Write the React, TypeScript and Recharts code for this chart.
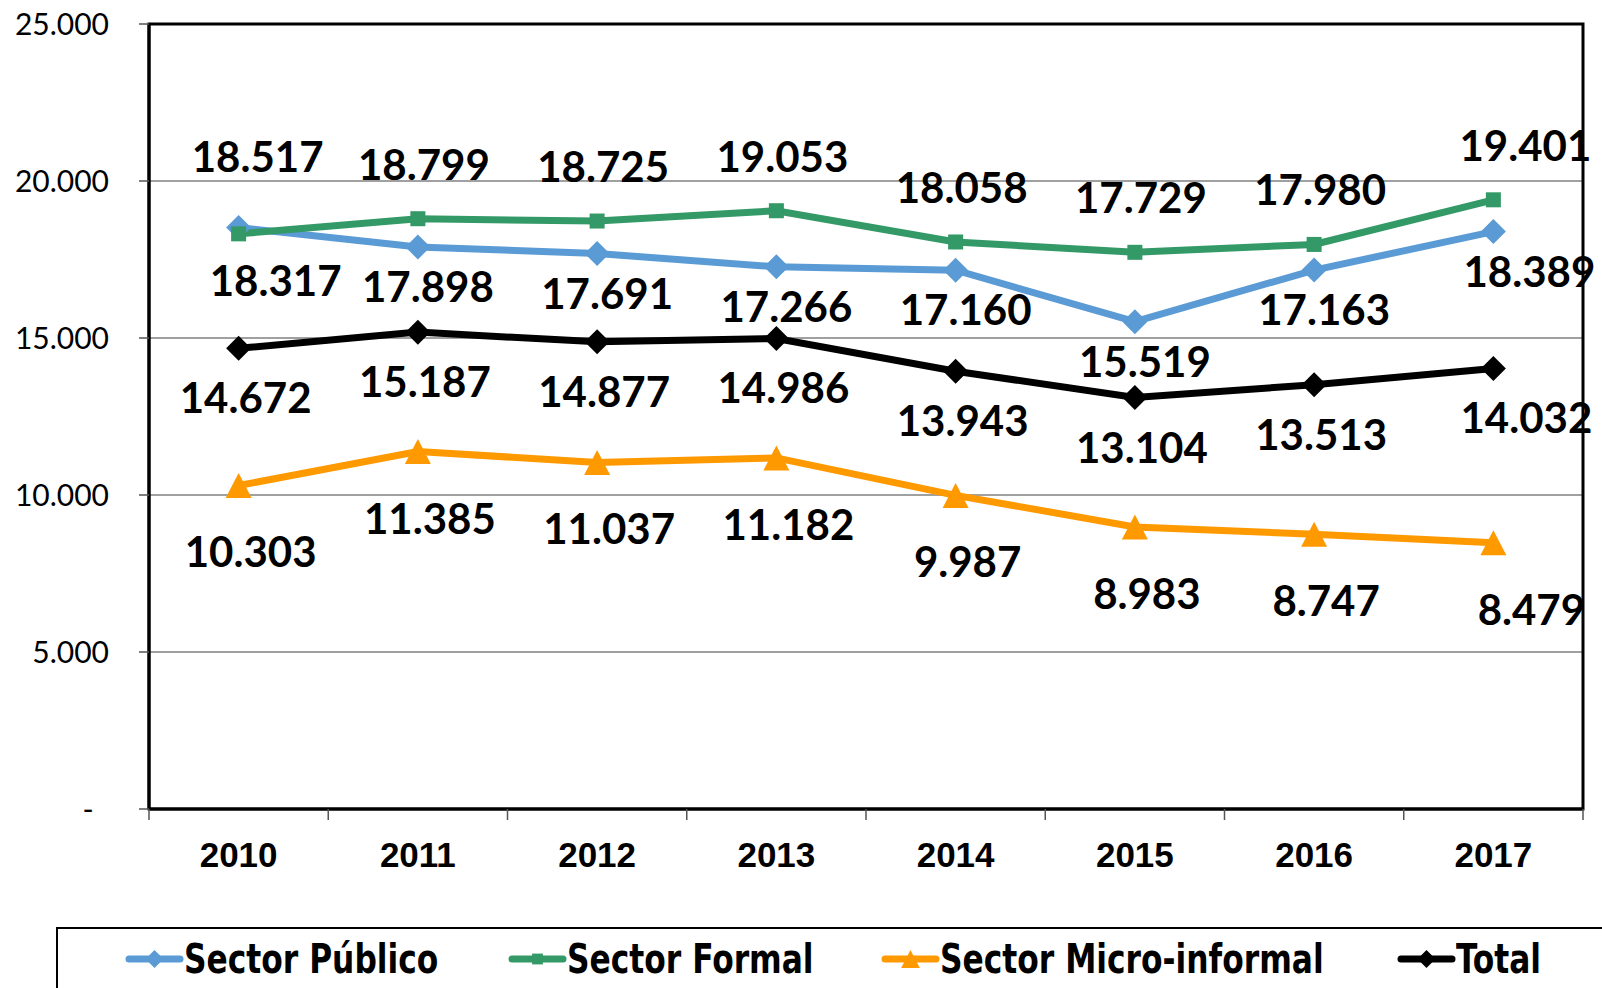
import { CartesianGrid, Line, LineChart, ReferenceArea, XAxis, YAxis } from 'recharts'

const YEARS = ['2010', '2011', '2012', '2013', '2014', '2015', '2016', '2017']
const SECTOR_PUBLICO = [18517, 17898, 17691, 17266, 17160, 15519, 17163, 18389]
const SECTOR_FORMAL = [18317, 18799, 18725, 19053, 18058, 17729, 17980, 19401]
const SECTOR_MICRO = [10303, 11385, 11037, 11182, 9987, 8983, 8747, 8479]
const TOTAL = [14672, 15187, 14877, 14986, 13943, 13104, 13513, 14032]
const Y_TICKS = [0, 5000, 10000, 15000, 20000, 25000]

const BLUE = '#5B9BD5'
const GREEN = '#339966'
const ORANGE = '#FF9900'
const BLACK = '#000000'

const data = YEARS.map((y, i) => ({
  year: Number(y),
  publico: SECTOR_PUBLICO[i],
  formal: SECTOR_FORMAL[i],
  micro: SECTOR_MICRO[i],
  total: TOTAL[i],
}))

const yearNums = YEARS.map(Number)
// category boundaries: ticks sit between the years, labels in the middle of each band
const boundaryTicks = [...yearNums.map((y) => y - 0.5), yearNums[yearNums.length - 1] + 0.5]
const xDomain = [boundaryTicks[0], boundaryTicks[boundaryTicks.length - 1]]

const fmt = (v: number) => String(Math.round(v)).replace(/\B(?=(\d{3})+(?!\d))/g, '.')

const LABEL_FONT = 'Lato, "Open Sans", sans-serif'

function marker(shape: string, cx: number, cy: number, color: string, s = 1) {
  if (shape === 'diamond') {
    const r = 12.5 * s
    return <path d={`M${cx},${cy - r}L${cx + r},${cy}L${cx},${cy + r}L${cx - r},${cy}Z`} fill={color} />
  }
  if (shape === 'square') {
    const r = 7.5 * s
    return <rect x={cx - r} y={cy - r} width={2 * r} height={2 * r} fill={color} />
  }
  const w = 13 * s
  const h = 12.5 * s
  return <path d={`M${cx},${cy - h}L${cx + w},${cy + h}L${cx - w},${cy + h}Z`} fill={color} />
}

const makeDot = (shape: string, color: string) => (props: any) => {
  const { cx, cy, index } = props
  if (cx == null || cy == null) return <g key={`d-${index}`} />
  return <g key={`d-${shape}-${index}`}>{marker(shape, cx, cy, color)}</g>
}

// label offsets relative to the point (label centre)
const makeLabel = (series: string) => (props: any) => {
  const x = props.x ?? props.viewBox?.x
  const y = props.y ?? props.viewBox?.y
  const index = props.index
  const value = props.value
  if (x == null || y == null || value == null) return null
  let dx = 0
  let dy = 0
  if (series === 'publico') {
    const above = SECTOR_PUBLICO[index] > SECTOR_FORMAL[index]
    dx = above ? 19 : 10
    dy = above ? -72 : 39
  } else if (series === 'formal') {
    const above = SECTOR_FORMAL[index] > SECTOR_PUBLICO[index]
    dx = above ? 6 : 37
    dy = above ? -55 : 46
  } else if (series === 'total') {
    dx = 7
    dy = 49
  } else {
    dx = 12
    dy = 66
  }
  // labels of the last year are pushed towards the right edge
  if (index === YEARS.length - 1) dx += 26
  return (
    <text
      key={`l-${series}-${index}`}
      x={x + dx}
      y={y + dy}
      textAnchor="middle"
      dominantBaseline="central"
      fontFamily={LABEL_FONT}
      fontWeight={700}
      fontSize={42}
      fill="#000"
    >
      {fmt(value)}
    </text>
  )
}

function YearTick(props: any) {
  const { x, y, payload, width, index } = props
  const band = (width || 1434) / YEARS.length
  if (index >= YEARS.length) return <g />
  return (
    <text
      x={x + band / 2}
      y={y}
      dy="0.71em"
      textAnchor="middle"
      fill="#000"
      fontSize={35}
      fontWeight={700}
      fontFamily='"Liberation Sans", Arial, sans-serif'
    >
      {YEARS[index] ?? String(payload.value + 0.5)}
    </text>
  )
}

const LEGEND = [
  { name: 'Sector Público', color: BLUE, shape: 'diamond', left: 125 },
  { name: 'Sector Formal', color: GREEN, shape: 'square', left: 508 },
  { name: 'Sector Micro-informal', color: ORANGE, shape: 'triangle', left: 881 },
  { name: 'Total', color: BLACK, shape: 'diamond', left: 1397 },
]

function ChartLegend() {
  return (
    <div
      style={{
        position: 'absolute',
        left: 56,
        top: 927,
        width: 1600,
        height: 200,
        borderTop: '2px solid #000',
        borderLeft: '2px solid #000',
      }}
    >
      {LEGEND.map((item) => (
        <div
          key={item.name}
          style={{
            position: 'absolute',
            left: item.left - 58,
            top: 5,
            height: 50,
            display: 'flex',
            alignItems: 'center',
          }}
        >
          <svg width={59} height={30} style={{ display: 'block' }}>
            <line x1={4} y1={15} x2={55} y2={15} stroke={item.color} strokeWidth={7} strokeLinecap="round" />
            {marker(item.shape, 29.5, 15, item.color, 0.72)}
          </svg>
          <span
            style={{
              display: 'inline-block',
              fontFamily: '"DejaVu Sans Condensed", "DejaVu Sans", sans-serif',
              fontWeight: 700,
              fontSize: 40,
              lineHeight: '50px',
              color: '#000',
              whiteSpace: 'nowrap',
              transform: 'scaleX(0.87)',
              transformOrigin: 'left center',
            }}
          >
            {item.name}
          </span>
        </div>
      ))}
    </div>
  )
}

export default function App() {
  return (
    <div
      style={{
        position: 'absolute',
        left: 0,
        top: 0,
        width: 1602,
        height: 988,
        overflow: 'hidden',
        background: '#fff',
      }}
    >
      <LineChart width={1602} height={988} data={data} margin={{ top: 24, right: 19, left: 0, bottom: 119 }}>
        <CartesianGrid xAxisId="main" yAxisId="left" vertical={false} stroke="#808080" strokeWidth={1.5} />
        <XAxis
          xAxisId="main"
          type="number"
          dataKey="year"
          domain={xDomain}
          ticks={boundaryTicks}
          interval={0}
          height={60}
          tickSize={11}
          tickMargin={22}
          tickLine={{ stroke: '#555', strokeWidth: 1.5 }}
          axisLine={{ stroke: '#000', strokeWidth: 3 }}
          tick={<YearTick />}
        />
        <YAxis
          yAxisId="left"
          domain={[0, 25000]}
          ticks={Y_TICKS}
          interval={0}
          width={149}
          tickSize={10}
          tickMargin={30}
          tickLine={{ stroke: '#555', strokeWidth: 1.5 }}
          axisLine={{ stroke: '#000', strokeWidth: 3 }}
          tickFormatter={(v: number) => (v === 0 ? '-\u00A0\u00A0' : fmt(v))}
          tick={{ fill: '#000', fontSize: 30, fontFamily: LABEL_FONT }}
        />
        <ReferenceArea
          xAxisId="main"
          yAxisId="left"
          x1={xDomain[0]}
          x2={xDomain[1]}
          y1={0}
          y2={25000}
          fill="none"
          fillOpacity={0}
          stroke="#000"
          strokeWidth={3}
          ifOverflow="visible"
        />
        <Line
          xAxisId="main"
          yAxisId="left"
          dataKey="publico"
          name="Sector Público"
          stroke={BLUE}
          strokeWidth={7}
          dot={makeDot('diamond', BLUE)}
          activeDot={false}
          label={makeLabel('publico')}
          isAnimationActive={false}
        />
        <Line
          xAxisId="main"
          yAxisId="left"
          dataKey="formal"
          name="Sector Formal"
          stroke={GREEN}
          strokeWidth={7}
          dot={makeDot('square', GREEN)}
          activeDot={false}
          label={makeLabel('formal')}
          isAnimationActive={false}
        />
        <Line
          xAxisId="main"
          yAxisId="left"
          dataKey="micro"
          name="Sector Micro-informal"
          stroke={ORANGE}
          strokeWidth={7}
          dot={makeDot('triangle', ORANGE)}
          activeDot={false}
          label={makeLabel('micro')}
          isAnimationActive={false}
        />
        <Line
          xAxisId="main"
          yAxisId="left"
          dataKey="total"
          name="Total"
          stroke={BLACK}
          strokeWidth={7}
          dot={makeDot('diamond', BLACK)}
          activeDot={false}
          label={makeLabel('total')}
          isAnimationActive={false}
        />
      </LineChart>
      <ChartLegend />
    </div>
  )
}
